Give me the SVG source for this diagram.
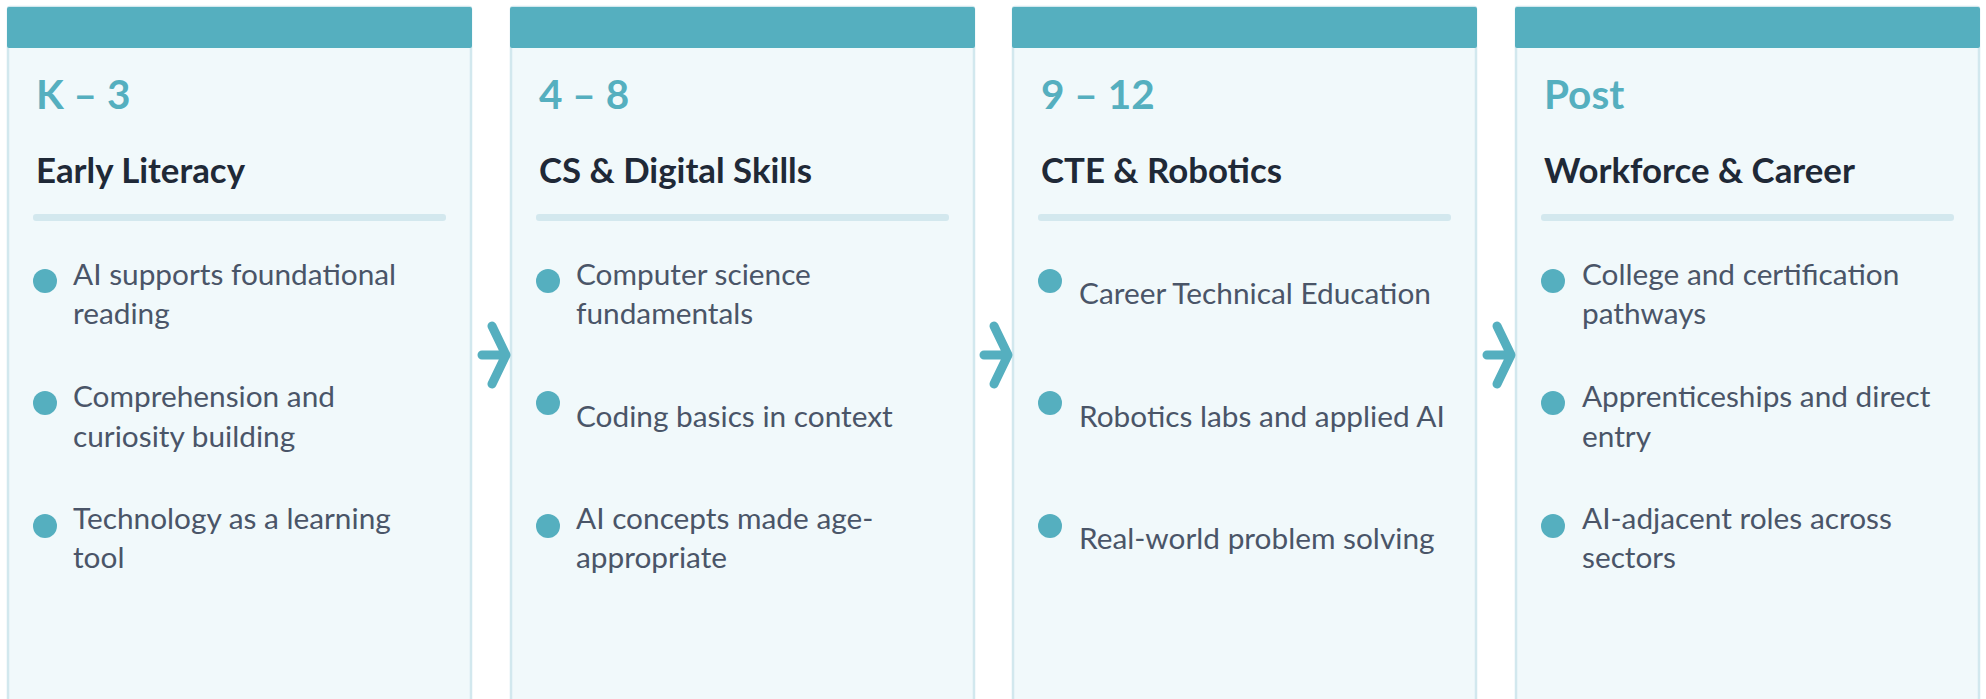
<svg xmlns="http://www.w3.org/2000/svg" width="1986" height="699" viewBox="0 0 1986 699">
<style>
.card{fill:#f1f9fb;stroke:#d2e8ee;stroke-width:2.5}
.head{fill:#55afbf}
.div{fill:#d3e8ee}
.stage{font-family:Lato,"Open Sans",sans-serif;font-weight:700;font-size:40.5px;fill:#55afbf}
.title{font-family:Lato,"Open Sans",sans-serif;font-weight:700;font-size:34.8px;fill:#1f2937}
.item{font-family:Lato,"Open Sans",sans-serif;font-size:29.8px;fill:#4a5568}
.dot{fill:#55afbf}
.arr{stroke:#55afbf;fill:none;stroke-width:9;stroke-linecap:round;stroke-linejoin:round}
</style>
<rect width="1986" height="699" fill="#ffffff"/>
<g id="card-k3">
<rect class="card" x="8" y="7" width="463" height="720" rx="2"/>
<rect class="head" x="7" y="7" width="465" height="41" rx="2"/>
<text class="stage" x="36" y="109">K – 3</text>
<text class="title" x="36" y="183">Early Literacy</text>
<rect class="div" x="33" y="214" width="413" height="7" rx="3"/>
<circle class="dot" cx="45" cy="281" r="12"/>
<text class="item" x="73" y="285">AI supports foundational</text>
<text class="item" x="73" y="324">reading</text>
<circle class="dot" cx="45" cy="403" r="12"/>
<text class="item" x="73" y="407">Comprehension and</text>
<text class="item" x="73" y="447">curiosity building</text>
<circle class="dot" cx="45" cy="526" r="12"/>
<text class="item" x="73" y="529">Technology as a learning</text>
<text class="item" x="73" y="568">tool</text>
</g>
<g id="card-48">
<rect class="card" x="511" y="7" width="463" height="720" rx="2"/>
<rect class="head" x="510" y="7" width="465" height="41" rx="2"/>
<text class="stage" x="539" y="109">4 – 8</text>
<text class="title" x="539" y="183">CS &amp; Digital Skills</text>
<rect class="div" x="536" y="214" width="413" height="7" rx="3"/>
<circle class="dot" cx="548" cy="281" r="12"/>
<text class="item" x="576" y="285">Computer science</text>
<text class="item" x="576" y="324">fundamentals</text>
<circle class="dot" cx="548" cy="403" r="12"/>
<text class="item" x="576" y="427">Coding basics in context</text>
<circle class="dot" cx="548" cy="526" r="12"/>
<text class="item" x="576" y="529">AI concepts made age-</text>
<text class="item" x="576" y="568">appropriate</text>
</g>
<g id="card-912">
<rect class="card" x="1013" y="7" width="463" height="720" rx="2"/>
<rect class="head" x="1012" y="7" width="465" height="41" rx="2"/>
<text class="stage" x="1041" y="109">9 – 12</text>
<text class="title" x="1041" y="183">CTE &amp; Robotics</text>
<rect class="div" x="1038" y="214" width="413" height="7" rx="3"/>
<circle class="dot" cx="1050" cy="281" r="12"/>
<text class="item" x="1079" y="304">Career Technical Education</text>
<circle class="dot" cx="1050" cy="403" r="12"/>
<text class="item" x="1079" y="427">Robotics labs and applied AI</text>
<circle class="dot" cx="1050" cy="526" r="12"/>
<text class="item" x="1079" y="549">Real-world problem solving</text>
</g>
<g id="card-post">
<rect class="card" x="1516" y="7" width="463" height="720" rx="2"/>
<rect class="head" x="1515" y="7" width="465" height="41" rx="2"/>
<text class="stage" x="1544" y="109">Post</text>
<text class="title" x="1544" y="183">Workforce &amp; Career</text>
<rect class="div" x="1541" y="214" width="413" height="7" rx="3"/>
<circle class="dot" cx="1553" cy="281" r="12"/>
<text class="item" x="1582" y="285">College and certification</text>
<text class="item" x="1582" y="324">pathways</text>
<circle class="dot" cx="1553" cy="403" r="12"/>
<text class="item" x="1582" y="407">Apprenticeships and direct</text>
<text class="item" x="1582" y="447">entry</text>
<circle class="dot" cx="1553" cy="526" r="12"/>
<text class="item" x="1582" y="529">AI-adjacent roles across</text>
<text class="item" x="1582" y="568">sectors</text>
</g>
<g id="connectors">
<path class="arr" d="M482 355 H503 M492 326 L506 355 L492 384"/>
<path class="arr" d="M984 355 H1005 M994 326 L1008 355 L994 384"/>
<path class="arr" d="M1487 355 H1508 M1497 326 L1511 355 L1497 384"/>
</g>
</svg>
